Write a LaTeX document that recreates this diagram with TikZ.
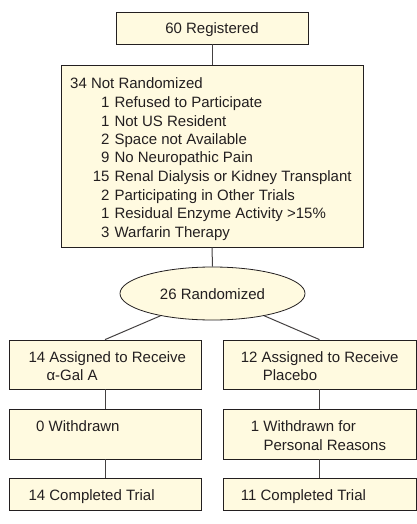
\documentclass[tikz,border=0pt]{standalone}
\usepackage{fontspec}
\setmainfont{Liberation Sans}
\usetikzlibrary{shapes.geometric}
\definecolor{boxfill}{RGB}{255,250,224}
\definecolor{ink}{RGB}{35,31,32}
\tikzset{
  box/.style={draw=ink, line width=0.8pt, fill=boxfill, rectangle, inner sep=0pt},
  oval/.style={draw=ink, line width=0.8pt, fill=boxfill, ellipse, inner sep=0pt},
  txt/.style={anchor=base west, inner sep=0pt, text=ink, font=\fontsize{15}{18.5}\selectfont},
  ctxt/.style={anchor=base, inner sep=0pt, text=ink, font=\fontsize{15}{18.5}\selectfont},
  link/.style={draw=ink!85, line width=1pt}
}
\begin{document}
\begin{tikzpicture}[x=1pt,y=1pt]
\useasboundingbox (0,0) rectangle (417,-524);
% boxes
\node[box, minimum width=192pt, minimum height=32pt] (reg) at (212,-28) {};
\node[box, minimum width=302pt, minimum height=182pt] (notr) at (212,-156) {};
\node[oval, minimum width=185pt, minimum height=53pt] (rand) at (212.5,-293.5) {};
\node[box, minimum width=192pt, minimum height=49pt] (a1) at (105,-364.5) {};
\node[box, minimum width=192pt, minimum height=50pt] (a2) at (105,-434) {};
\node[box, minimum width=192pt, minimum height=32pt] (a3) at (105,-494) {};
\node[box, minimum width=193pt, minimum height=49pt] (b1) at (319.5,-364.5) {};
\node[box, minimum width=193pt, minimum height=50pt] (b2) at (319.5,-434) {};
\node[box, minimum width=193pt, minimum height=32pt] (b3) at (319.5,-494) {};
% connectors
\draw[link] (reg.south) -- (notr.north);
\draw[link] (notr.south) -- (rand.north);
\draw[link] (rand) -- (a1.north);
\draw[link] (rand) -- (b1.north);
\draw[link] (a1.south) -- (a2.north);
\draw[link] (a2.south) -- (a3.north);
\draw[link] (b1.south) -- (b2.north);
\draw[link] (b2.south) -- (b3.north);
% texts
\node[ctxt] (tReg) at (212,-34) {60 Registered};
\node[txt] (tNot) at (70,-89) {\begin{tabular}[t]{@{\hspace{22.7pt}}r@{\hspace{5pt}}l@{}}
\multicolumn{2}{@{}l@{}}{34 Not Randomized}\\
1 & Refused to Participate\\
1 & Not US Resident\\
2 & Space not Available\\
9 & No Neuropathic Pain\\
15 & Renal Dialysis or Kidney Transplant\\
2 & Participating in Other Trials\\
1 & Residual Enzyme Activity >15\%\\
3 & Warfarin Therapy
\end{tabular}};
\node[ctxt] (tRand) at (212.5,-299) {26 Randomized};
\node[txt] (tA1) at (28.3,-362) {\begin{tabular}[t]{@{}l@{}}14 Assigned to Receive\\\hspace*{18pt}α-Gal A\end{tabular}};
\node[txt] (tA2) at (36,-431.7) {0 Withdrawn};
\node[txt] (tA3) at (28.3,-500.7) {14 Completed Trial};
\node[txt] (tB1) at (240.7,-362) {\begin{tabular}[t]{@{}l@{}}12 Assigned to Receive\\\hspace*{22pt}Placebo\end{tabular}};
\node[txt] (tB2) at (250.7,-431.7) {\begin{tabular}[t]{@{}l@{}}1 Withdrawn for\\\hspace*{12.6pt}Personal Reasons\end{tabular}};
\node[txt] (tB3) at (240.7,-500.7) {11 Completed Trial};
\end{tikzpicture}
\end{document}
